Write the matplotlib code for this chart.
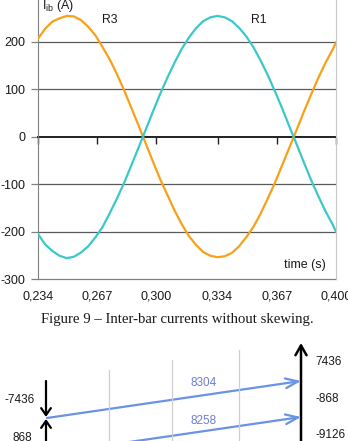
import matplotlib
matplotlib.use("Agg")
import matplotlib.pyplot as plt
from matplotlib.patches import FancyArrowPatch

# ── DATA ──────────────────────────────────────────────────────
time_s = [0.234, 0.238, 0.242, 0.246, 0.250, 0.254, 0.258, 0.262, 0.266, 0.270,
          0.274, 0.278, 0.282, 0.286, 0.290, 0.294, 0.298, 0.302, 0.306, 0.310,
          0.314, 0.318, 0.322, 0.326, 0.330, 0.334, 0.338, 0.342, 0.346, 0.350,
          0.354, 0.358, 0.362, 0.366, 0.370, 0.374, 0.378, 0.382, 0.386, 0.390,
          0.394, 0.398, 0.400]
r3_amps = [207, 228, 243, 250, 255, 254, 246, 232, 214, 189,
           163, 132, 98, 61, 24, -14, -52, -89, -122, -155,
           -184, -209, -228, -243, -251, -254, -252, -245, -231, -212,
           -190, -162, -130, -97, -60, -23, 14, 52, 88, 123,
           155, 183, 199]
r1_amps = [-205, -227, -241, -251, -256, -253, -244, -231, -212, -190,
           -161, -130, -97, -60, -23, 15, 53, 90, 124, 156,
           185, 209, 229, 244, 252, 255, 252, 244, 230, 212,
           189, 161, 130, 96, 60, 22, -15, -53, -90, -124,
           -156, -184, -200]
yticks = [-300, -200, -100, 0, 100, 200]
xticks = [0.234, 0.267, 0.300, 0.334, 0.367, 0.400]
xtick_labels = ['0,234', '0,267', '0,300', '0,334', '0,367', '0,400']

# bottom sketch labels
left_labels = ['-7436', '868']
right_labels = ['7436', '-868', '-9126']
flow_labels = ['8304', '8258']

orange = '#F7A11A'
cyan = '#3CC8C8'
blue = '#6A93E6'
grid_c = '#5a5a5a'
ink = '#1a1a1a'

plt.rcParams['font.family'] = ['Liberation Sans', 'DejaVu Sans']

W, H = 348, 441
fig = plt.figure(figsize=(W / 100, H / 100), dpi=100)

# ── CHART ─────────────────────────────────────────────────────
px_per_unit = 47.4 / 100
ax_h = 600 * px_per_unit
ax = fig.add_axes([38 / W, (H - 279) / H, (336 - 38) / W, ax_h / H])
ax.set_xlim(0.234, 0.400)
ax.set_ylim(-300, 300)

for v in yticks:
    if v not in (0, -300):
        ax.axhline(v, color=grid_c, lw=0.9, zorder=1)

ax.plot(time_s, r3_amps, color=orange, lw=1.6, zorder=3)
ax.plot(time_s, r1_amps, color=cyan, lw=1.6, zorder=3)

ax.spines['top'].set_visible(False)
ax.spines['right'].set_color('#c8c8c8')
ax.spines['left'].set_color('#808080')
ax.spines['bottom'].set_position(('data', 0))
ax.spines['bottom'].set_color('#202020')
ax.spines['bottom'].set_linewidth(1.4)
ax.spines['bottom'].set_zorder(2)

ax.set_yticks(yticks)
ax.set_yticklabels([str(v) for v in yticks])
ax.tick_params(axis='y', length=5, width=0.9, color='#808080', labelsize=9,
               labelcolor=ink, pad=4)
ax.set_xticks(xticks)
ax.tick_params(axis='x', length=5, width=1.0, color='#202020', direction='out',
               labelbottom=False)

sec = ax.secondary_xaxis('bottom')
sec.set_xticks(xticks)
sec.set_xticklabels(xtick_labels)
sec.tick_params(length=0, pad=8, labelsize=9, labelcolor=ink)
sec.spines['bottom'].set_color('#808080')
sec.spines['bottom'].set_linewidth(0.9)

fig.text(42 / W, (H - 9) / H, r'I$_{\mathregular{ib}}$ (A)', fontsize=9,
         color=ink, va='baseline', ha='left')
fig.text(102 / W, (H - 20) / H, 'R3', fontsize=8.8, color=ink, va='center')
fig.text(251 / W, (H - 20) / H, 'R1', fontsize=8.8, color=ink, va='center')
fig.text(284 / W, (H - 265) / H, 'time (s)', fontsize=9, color=ink, va='center')

# ── CAPTION ───────────────────────────────────────────────────
fig.text(177 / W, (H - 320) / H, 'Figure 9 \u2013 Inter-bar currents without skewing.',
         family=['Liberation Serif', 'DejaVu Serif'], fontsize=10.6, color=ink,
         ha='center', va='center')

# ── BOTTOM SKETCH (pixel coordinates, y down) ─────────────────
ax2 = fig.add_axes([0, 0, 1, (H - 338) / H])
ax2.set_xlim(0, W)
ax2.set_ylim(H, 338)
ax2.axis('off')

for gx, gy in zip([109, 172, 239], [370, 360, 350]):
    ax2.plot([gx, gx], [gy, H], color='#cfcfcf', lw=0.9)


def arrow(p0, p1, color, lw, hw, hl):
    ax2.add_patch(FancyArrowPatch(p0, p1, arrowstyle=f'->,head_width={hw},head_length={hl}',
                                  color=color, lw=lw, shrinkA=0, shrinkB=0,
                                  mutation_scale=10))


arrow((301, H + 5), (301, 343), 'black', 1.8, 0.4, 0.7)
arrow((46, 381), (46, 417), 'black', 1.6, 0.35, 0.5)
arrow((46, H + 5), (46, 419), 'black', 1.6, 0.35, 0.5)
arrow((47, 418), (301, 381), blue, 1.6, 0.35, 0.9)
arrow((47, 454), (301, 417), blue, 1.6, 0.35, 0.9)

ax2.text(35, 400, left_labels[0], fontsize=8.5, ha='right', va='center', color=ink)
ax2.text(32, 438, left_labels[1], fontsize=8.5, ha='right', va='center', color=ink)
for lbl, ly in zip(right_labels, [362, 399, 435]):
    ax2.text(315, ly, lbl, fontsize=8.5, ha='left', va='center', color=ink)
for lbl, ly in zip(flow_labels, [383, 421]):
    ax2.text(204, ly, lbl, fontsize=8.5, ha='center', va='center', color='#6f7fd0')

fig.savefig('out.png', dpi=100, facecolor='white')
